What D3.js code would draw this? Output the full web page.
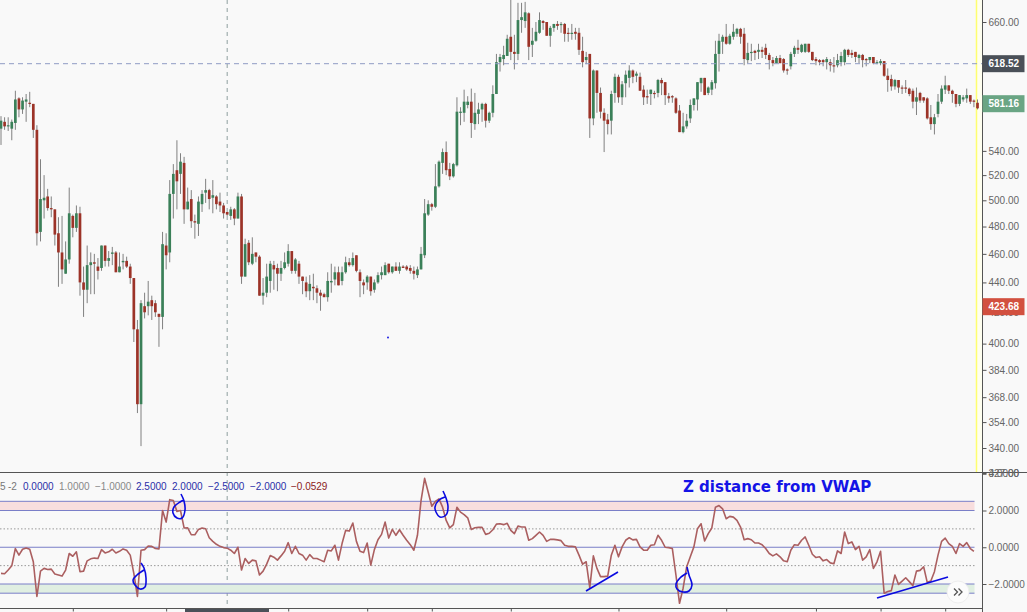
<!DOCTYPE html>
<html lang="en">
<head>
<meta charset="UTF-8">
<title>Z distance from VWAP</title>
<script src="https://d3js.org/d3.v7.min.js"></script>
<style>
    html, body { margin: 0; padding: 0; background: #f9f9f9; overflow: hidden; }
    svg { display: block; }
    text { font-family: "Liberation Sans", Arial, sans-serif; }
    .axis text { font-size: 10px; fill: #666; }
    .axis path, .axis line { stroke: #555; }
</style>
</head>
<body>
<svg id="chart" width="1027" height="612"></svg>
<script>
// Price candles, one entry per bar
const highs = [
    570,569,569,567,593,587,587,590,592,581, 562,533,520,509,503,493,487,488,469,510,
    489,496,495,451,466,461,460,457,466,466, 462,465,462,461,460,458,453,443,415,428,
    433,441,431,428,419,476,475,516,529,549, 538,535,510,508,489,503,508,517,509,516,
    504,506,498,491,495,494,506,505,471,470, 472,461,459,443,453,455,455,453,455,461,
    467,462,457,455,444,444,445,446,438,435, 433,447,453,451,451,451,458,457,461,459,
    449,442,445,444,442,447,451,454,453,451, 454,454,452,452,452,451,451,465,501,500,
    498,529,532,542,548,530,530,587,578,594, 588,595,591,582,582,582,574,598,628,628,
    636,647,690,647,680,680,681,670,654,660, 670,662,660,656,658,661,660,659,654,658,
    654,654,645,630,628,613,612,596,577,572, 593,609,608,602,612,617,613,611,610,598,
    594,594,593,604,605,601,591,589,587,580, 573,572,585,586,601,605,605,597,603,641,
    648,647,658,648,658,654,654,654,639,638, 632,638,635,638,629,625,626,627,624,614,
    630,636,642,638,638,638,630,625,623,623, 625,623,625,628,630,633,633,632,630,628,
    628,624,625,625,622,623,621,614,608,604, 603,598,603,596,595,596,592,587,587,580,
    572,590,598,607,598,594,590,589,589,595,589,585,585
];
const lows = [
    545,558,557,549,558,569,572,565,578,551, 466,469,486,492,487,466,437,439,446,453,
    472,476,431,417,426,432,432,442,448,451, 451,452,447,447,449,450,439,401,359,341,
    416,418,415,417,398,409,449,454,486,493, 505,482,493,479,471,473,491,498,493,490,
    493,491,486,488,485,481,486,439,444,452, 452,454,431,425,430,433,435,434,441,449,
    451,446,446,439,432,430,428,428,426,421, 430,427,433,438,438,438,446,451,451,447,
    430,432,435,431,433,439,442,445,446,446, 448,446,450,448,446,442,443,449,457,488,
    492,494,510,521,520,516,518,527,562,565, 577,551,558,563,565,560,564,569,590,611,
    617,626,622,613,622,649,654,622,625,640, 648,652,646,635,650,652,649,640,640,642,
    642,627,615,618,551,562,573,568,539,554, 554,582,582,580,587,596,600,601,593,580,
    581,580,586,587,589,580,582,582,572,556, 555,559,564,575,575,592,589,589,589,595,
    611,628,637,637,642,645,638,617,619,621, 622,623,624,623,613,616,619,619,610,608,
    613,625,628,629,629,629,621,617,617,616, 613,611,610,615,616,617,625,624,620,619,
    615,616,619,618,618,617,606,592,593,594, 591,590,591,588,577,571,582,582,567,558,
    554,569,581,590,590,582,578,579,583,582,581,578,576
];
const opens = [
    559,565,561,559,564,586,576,583,582,581, 558,476,500,503,494,493,475,461,446,456,
    488,479,490,440,435,452,454,451,450,466, 455,460,461,447,454,455,451,443,409,364,
    424,424,428,426,419,417,466,461,505,524, 521,530,493,501,484,482,497,506,508,502,
    503,499,496,491,488,493,486,503,444,468, 453,461,458,431,433,441,452,450,446,450,
    453,462,448,453,444,440,434,437,436,433, 432,430,440,442,447,441,447,454,452,459,
    447,440,440,444,435,440,445,445,453,447, 451,448,451,451,450,448,445,449,459,489,
    497,495,511,530,539,525,519,528,573,573, 580,583,563,572,576,581,566,573,590,620,
    623,626,645,630,628,662,661,669,637,641, 649,661,660,646,654,658,657,658,649,648,
    650,649,631,622,628,568,612,591,573,567, 566,591,606,587,600,605,612,607,606,594,
    588,590,591,591,603,601,588,588,586,575, 556,561,568,580,585,600,605,591,594,600,
    628,640,645,638,645,648,653,648,622,629, 631,630,632,634,627,622,619,624,623,613,
    616,628,634,630,630,638,630,623,622,622, 620,620,617,617,620,620,632,629,630,624,
    627,623,622,625,619,619,621,607,604,597, 603,596,596,595,593,583,591,587,586,569,
    563,572,583,594,598,593,590,581,585,586,589,584,582
];
const closes = [
    566,561,562,565,585,576,584,585,581,558, 475,501,502,494,493,474,461,449,456,490,
    479,490,440,435,452,454,453,448,466,455, 457,461,447,451,455,451,443,409,364,426,
    420,427,424,420,417,467,459,505,521,515, 531,493,499,484,483,499,505,508,501,504,
    497,496,490,489,493,486,503,444,467,454, 460,458,431,433,444,453,449,446,450,454,
    462,448,456,444,441,434,439,436,433,431, 430,441,441,447,438,447,454,452,457,448,
    441,438,444,434,440,445,447,452,447,451, 448,451,450,449,448,446,449,460,490,497,
    495,511,531,539,524,519,529,574,574,583, 583,564,573,576,581,566,573,590,620,625,
    627,643,630,628,662,665,670,635,641,650, 662,659,646,654,658,656,658,648,648,649,
    648,632,620,625,568,612,591,574,566,563, 590,606,587,599,608,612,606,609,593,587,
    587,594,590,603,600,589,586,587,573,556, 561,566,580,586,601,605,589,596,601,628,
    641,645,638,646,650,653,645,623,629,630, 629,632,630,627,622,619,624,619,612,612,
    628,634,632,637,638,630,622,621,620,620, 623,617,616,622,626,632,627,627,625,627,
    622,622,625,619,620,621,607,603,597,603, 596,595,595,590,583,587,584,584,568,563,
    569,583,595,598,593,590,581,589,587,589,583,583,577
];

// Z distance from VWAP, one entry per bar
const zValues = [
    -1.42,-1.44,-1.24,-1.01,-0.07,-0.43,-0.11,-0.04,-0.11,-0.79,-2.68,-1.30,-1.15,-1.21,-1.19,-1.46,-1.51,-1.57,-1.24,-0.34,
    -0.49,-0.25,-1.33,-1.30,-0.74,-0.63,-0.59,-0.61,-0.13,-0.31,-0.25,-0.11,-0.31,-0.22,-0.09,-0.16,-0.43,-1.42,-2.68,-0.16,
    -0.13,0.07,0.05,-0.07,-0.09,2.00,1.37,2.59,2.54,1.95,2.00,1.05,1.06,0.68,0.68,0.97,1.05,1.01,0.52,0.32,
    0.16,0.05,-0.02,-0.05,-0.16,-0.34,0,-1.24,-0.61,-0.88,-0.70,-0.74,-1.51,-1.30,-0.92,-0.45,-0.54,-0.70,-0.47,-0.22,
    0.25,-0.34,0.05,-0.34,-0.43,-0.70,-0.40,-0.61,-0.61,-0.70,-0.79,-0.16,-0.20,0.11,-0.70,
    0.20,0.92,0.88,1.32,0.32,-0.22,-0.29,0.23,-0.97,-0.13,0.41,0.70,1.37,0.50,0.97,0.65,0.95,0.65,0.38,0.14,
    -0.16,0.65,2.54,3.75,2.99,2.23,2.49,2.63,2.18,1.46,1.05,1.23,2.18,1.91,1.78,1.60,0.97,1.06,1.08,1.08,
    0.70,0.76,0.95,1.26,1.28,1.23,1.30,0.92,0.74,1.15,1.10,1.10,0.38,0.47,0.65,0.83,0.65,0.32,0.43,0.43,
    0.40,0.36,0.11,0.05,0.05,0.02,-0.43,-0.92,-0.79,-2.20,-0.47,-1.15,-1.60,-1.60,-1.57,-0.43,0.11,-0.52,0.02,0.38,
    0.52,0.40,0.43,0.02,-0.16,-0.16,0.11,0.14,0.65,0.38,0,-0.02,-0.07,-1.51,-3.05,
    -2.23,-1.06,-0.52,0.02,1.01,1.28,0.34,0.74,1.05,2.18,2.27,2.09,1.55,1.68,1.64,1.46,1.10,0.41,0.47,0.41,
    0.23,0.23,0.14,-0.07,-0.34,-0.47,-0.36,-0.52,-0.74,-0.79,-0.16,0.14,0.11,0.38,0.56,0.11,-0.38,-0.56,-0.52,-0.74,
    -0.67,-0.85,-0.90,-0.20,-0.34,0.83,0.20,0.29,-0.13,0.05,-0.70,-0.52,-0.13,-1.15,-0.79,-0.22,-2.50,-2.41,-2.36,-1.51,
    -2.02,-1.84,-1.66,-1.87,-2.09,-1.30,-1.26,-1.06,-1.91,-1.84,-1.33,-0.43,0.32,0.50,0.20,0.05,-0.34,0.20,0.05,0.25,
    -0.07,-0.22
];

// Axis ticks
const priceTicks = [660, 540, 520, 500, 480, 460, 440, 420, 400, 384, 368, 354, 340, 327];
const zTicks = [4, 2, 0, -2];
const timeTicks = [20, 46, 80, 102, 120, 142, 172, 202, 227, 245, 263];

// Price tags on the axis
const tagValues = [618.52, 581.16, 423.68];
const tagColors = ["#4a5058", "#6aa584", "#d2503f"];

// Indicator levels and its legend row
const bandLevels = [2.5, 2, -2, -2.5];
const dottedLevels = [1, -1];
const legendTexts = ["5", "-2", "0.0000", "1.0000", "\u22121.0000", "2.5000", "2.0000", "\u22122.5000", "\u22122.0000", "\u22120.0529"];
const legendColors = ["#777", "#777", "#2a2fa8", "#888", "#888", "#2a2fa8", "#2a2fa8", "#2a2fa8", "#2a2fa8", "#8b2222"];
const crosshairBar = 63;

const paneRight = 982.5, paneDivider = 472.5, bottomLine = 608.5, lastBar = closes.length - 1;

const svg = d3.select("#chart");
const x = d3.scaleLinear().domain([0, 272]).range([1, 977.5]);
const priceY = d3.scaleLog().domain([660, 340]).range([22, 448]);
const zY = d3.scaleLinear().domain([2, -2]).range([510.5, 584]);

svg.append("clipPath").attr("id", "priceClip")
    .append("rect").attr("width", paneRight).attr("height", paneDivider);

// yellow session marker
svg.append("rect").attr("x", 976).attr("y", 0).attr("width", paneRight - 976).attr("height", paneDivider)
    .attr("fill", "#fffff0");
svg.append("line").attr("x1", 976.5).attr("x2", 976.5).attr("y1", 0).attr("y2", paneDivider)
    .attr("stroke", "#ffff70").attr("stroke-width", 1.5);

// candles
const candles = svg.append("g").attr("clip-path", "url(#priceClip)");
candles.selectAll("line").data(closes).join("line")
    .attr("x1", (d, i) => x(i)).attr("x2", (d, i) => x(i))
    .attr("y1", (d, i) => priceY(highs[i])).attr("y2", (d, i) => priceY(lows[i]))
    .attr("stroke", "#808080").attr("stroke-width", 1);
candles.selectAll("rect").data(closes).join("rect")
    .attr("x", (d, i) => x(i) - 1.35).attr("width", 2.7)
    .attr("y", (d, i) => priceY(Math.max(d, opens[i])))
    .attr("height", (d, i) => Math.max(1.2, Math.abs(priceY(d) - priceY(opens[i]))))
    .attr("fill", (d, i) => d >= opens[i] ? "#3b8059" : "#9c3328");

// dashed horizontal level and crosshair
svg.append("line").attr("x1", 0).attr("x2", paneRight)
    .attr("y1", priceY(tagValues[0])).attr("y2", priceY(tagValues[0]))
    .attr("stroke", "#8f9cc4").attr("stroke-dasharray", "5 4");
svg.append("line").attr("x1", x(crosshairBar)).attr("x2", x(crosshairBar)).attr("y1", 0).attr("y2", 612)
    .attr("stroke", "#8f9f9f").attr("stroke-dasharray", "4 4");

// indicator bands
svg.append("rect").attr("x", 0).attr("width", x(lastBar) - 3)
    .attr("y", zY(2.5)).attr("height", zY(2) - zY(2.5)).attr("fill", "#f8dede");
svg.append("rect").attr("x", 0).attr("width", x(lastBar) - 3)
    .attr("y", zY(-2)).attr("height", zY(-2.5) - zY(-2)).attr("fill", "#e0efe2");
svg.selectAll(".band").data(bandLevels.concat([0])).join("line").attr("class", "band")
    .attr("x1", 0).attr("x2", x(lastBar) - 3)
    .attr("y1", d => zY(d)).attr("y2", d => zY(d))
    .attr("stroke", "#7a7fc8").attr("stroke-width", 1);
svg.selectAll(".dots").data(dottedLevels).join("line").attr("class", "dots")
    .attr("x1", 0).attr("x2", x(lastBar) - 1)
    .attr("y1", d => zY(d)).attr("y2", d => zY(d))
    .attr("stroke", "#999").attr("stroke-dasharray", "1.5 2");

// z line
svg.append("path").datum(zValues)
    .attr("fill", "none").attr("stroke", "#ab5f60").attr("stroke-width", 1.6)
    .attr("stroke-linejoin", "round")
    .attr("d", d3.line().x((d, i) => x(i)).y(d => zY(d)));

// pane frame
svg.append("line").attr("x1", 0).attr("x2", 1027).attr("y1", paneDivider).attr("y2", paneDivider)
    .attr("stroke", "#555");
svg.append("line").attr("x1", 0).attr("x2", paneRight).attr("y1", bottomLine).attr("y2", bottomLine)
    .attr("stroke", "#555");
svg.append("rect").attr("x", 185).attr("y", 609).attr("width", 84).attr("height", 3).attr("fill", "#4a5058");

// axes
const priceAxis = d3.axisRight(priceY).tickValues(priceTicks).tickSize(4).tickPadding(2)
    .tickFormat(d3.format(".2f"));
svg.append("g").attr("class", "axis").attr("transform", `translate(${paneRight},0)`).call(priceAxis)
    .select(".domain").attr("d", "M0,0V472");
const zAxis = d3.axisRight(zY).tickValues(zTicks).tickSize(4).tickPadding(2)
    .tickFormat(d => d3.format(".4f")(d).replace("-", "\u2212"));
svg.append("g").attr("class", "axis").attr("transform", `translate(${paneRight},0)`).call(zAxis)
    .select(".domain").attr("d", "M0,472V612");
const timeAxis = d3.axisBottom(x).tickValues(timeTicks).tickSize(3).tickFormat("");
svg.append("g").attr("class", "axis").attr("transform", `translate(0,${bottomLine})`).call(timeAxis)
    .select(".domain").remove();

// axis price tags
const tags = svg.selectAll(".tag").data(tagValues).join("g").attr("class", "tag")
    .attr("transform", d => `translate(${paneRight},${priceY(d)})`);
tags.append("rect").attr("x", 0).attr("y", -8.5).attr("width", 42).attr("height", 17)
    .attr("fill", (d, i) => tagColors[i]);
tags.append("text").attr("x", 6).attr("y", 3.6).attr("fill", "#fff")
    .attr("font-size", 10).attr("font-weight", "bold")
    .text(d => d.toFixed(2));

// legend row of the indicator
const legendX = [0, 8, 23, 59, 95, 136, 172, 208, 250, 291];
svg.selectAll(".legend").data(legendTexts).join("text").attr("class", "legend")
    .attr("x", (d, i) => legendX[i]).attr("y", 490)
    .attr("font-size", 10).attr("fill", (d, i) => legendColors[i])
    .text(d => d);

svg.append("text").attr("x", 683).attr("y", 492)
    .style("font-family", "'DejaVu Sans'").attr("font-size", 15).attr("font-weight", "bold")
    .attr("fill", "#1414e6").text("Z distance from VWAP");

// pen strokes drawn on the picture
const pen = d3.line().curve(d3.curveCatmullRom);
const penStrokes = [
    [[141,563],[144,568],[146,578],[145,587],[140,589],[135,585],[133,580],[137,575],[144,570]],
    [[181,494],[184,501],[185,510],[182,518],[177,518],[173,513],[174,507],[180,502],[184,500]],
    [[443,491],[446,498],[448,507],[446,515],[440,517],[436,512],[435,507],[439,500],[445,497]],
    [[687,567],[689,575],[692,585],[689,591],[683,592],[677,589],[676,584],[680,578],[687,573]],
    [[586,591],[618,572]],
    [[877,598],[948,577]]
];
svg.selectAll(".pen").data(penStrokes).join("path").attr("class", "pen")
    .attr("d", pen).attr("fill", "none").attr("stroke", "#0a0ae0").attr("stroke-width", 1.6);
svg.append("circle").attr("cx", 388).attr("cy", 337.5).attr("r", 0.9).attr("fill", "#0a0ae0");

// scroll button
const btn = svg.append("g").attr("transform", "translate(958,592)");
btn.append("circle").attr("r", 11).attr("fill", "#fcfcfc").attr("stroke", "#eee");
btn.append("path").attr("d", "M-4,-3.5L-0.5,0L-4,3.5M0.5,-3.5L4,0L0.5,3.5")
    .attr("fill", "none").attr("stroke", "#555").attr("stroke-width", 1.3);
</script>
</body>
</html>
